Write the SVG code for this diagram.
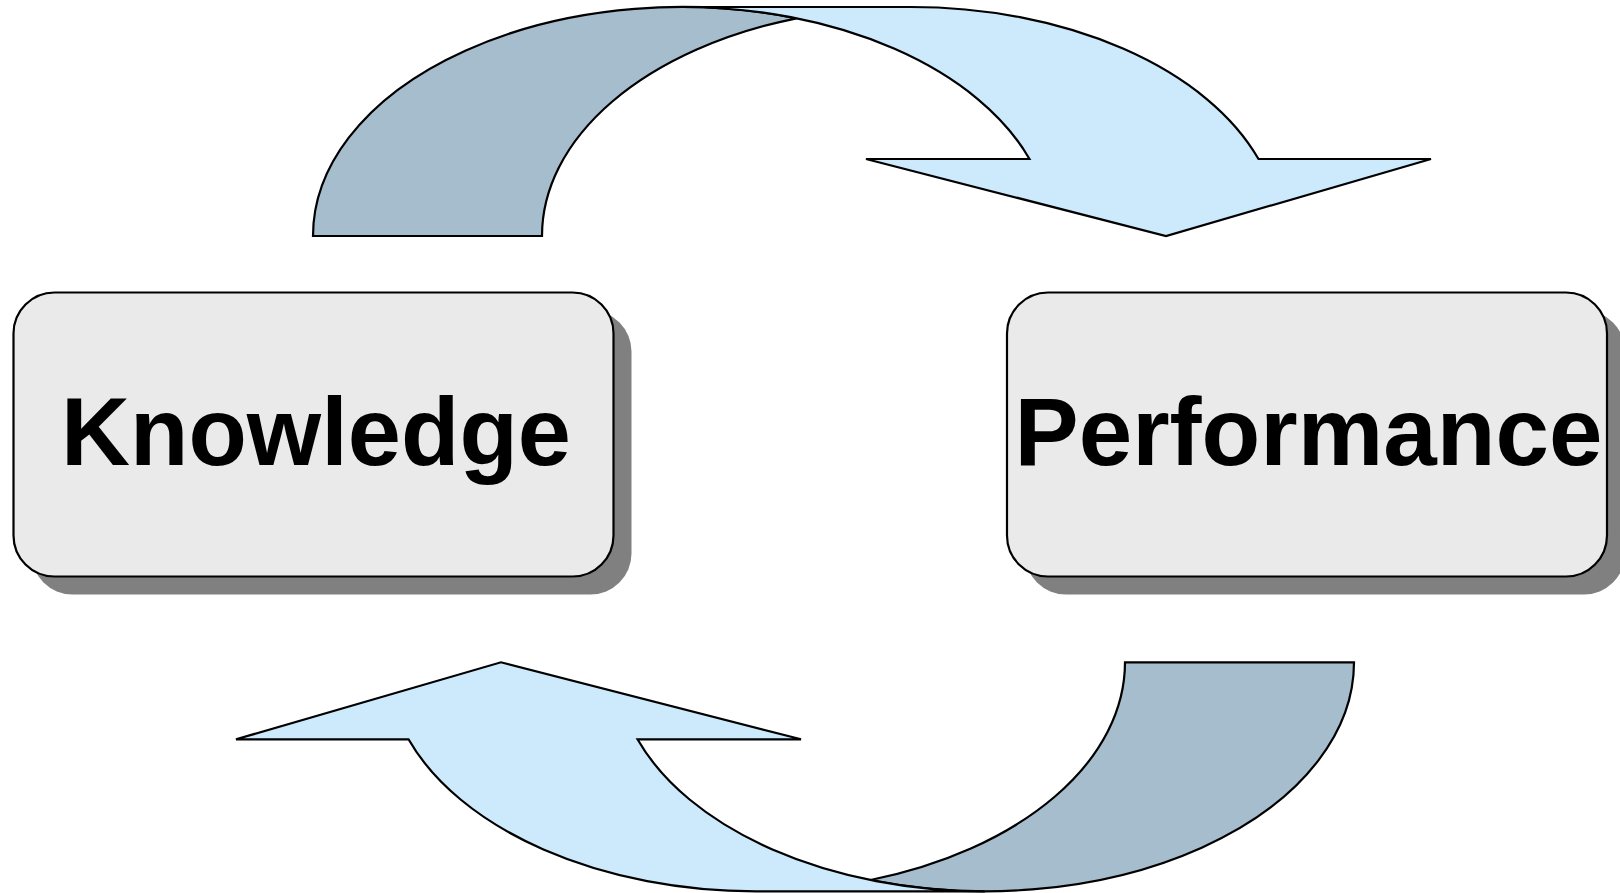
<svg xmlns="http://www.w3.org/2000/svg" width="1620" height="893" viewBox="0 0 1620 893">
  <style>
    .shadow { fill: #808080; }
    .box { fill: #eaeaea; stroke: #000; stroke-width: 2.2; }
    .label { font-family: "Liberation Sans", Arial, Helvetica, sans-serif; font-weight: bold; font-size: 97px; fill: #000; text-anchor: middle; }
    .band-back { fill: #a5bdcc; stroke: #000; stroke-width: 2.2; stroke-linejoin: miter; }
    .band-front { fill: #cceafc; stroke: #000; stroke-width: 2.2; stroke-linejoin: miter; }
  </style>
  <defs>
    <!-- curved arrow: two equal ellipses (rx 369, ry 229) offset by the band width -->
    <g id="curved-arrow">
      <path class="band-back" d="M 313 236 A 369 229 0 0 1 796.5 18.3 A 369 229 0 0 0 542 236 Z"/>
      <path class="band-front" d="M 682 7 L 911 7 A 369 229 0 0 1 1258.5 159 L 1431 159 L 1166 236 L 866 159 L 1029.5 159 A 369 229 0 0 0 682 7 Z"/>
    </g>
  </defs>

  <rect width="1620" height="893" fill="#ffffff"/>

  <g id="connectors">
    <!-- Knowledge to Performance, over the top -->
    <use id="arrow-top" href="#curved-arrow"/>
    <!-- Performance to Knowledge, underneath -->
    <use id="arrow-bottom" href="#curved-arrow" transform="rotate(180 833.5 449.15)"/>
  </g>

  <g id="node-knowledge">
    <rect class="shadow" x="31.5" y="310.5" width="600" height="284" rx="41"/>
    <rect class="box" x="13.5" y="292.5" width="600" height="284" rx="41"/>
    <text class="label" x="316" y="465" textLength="510" lengthAdjust="spacingAndGlyphs">Knowledge</text>
  </g>

  <g id="node-performance">
    <rect class="shadow" x="1025" y="310.5" width="600" height="284" rx="41"/>
    <rect class="box" x="1007" y="292.5" width="600" height="284" rx="41"/>
    <text class="label" x="1308.5" y="465" textLength="588" lengthAdjust="spacingAndGlyphs">Performance</text>
  </g>
</svg>
